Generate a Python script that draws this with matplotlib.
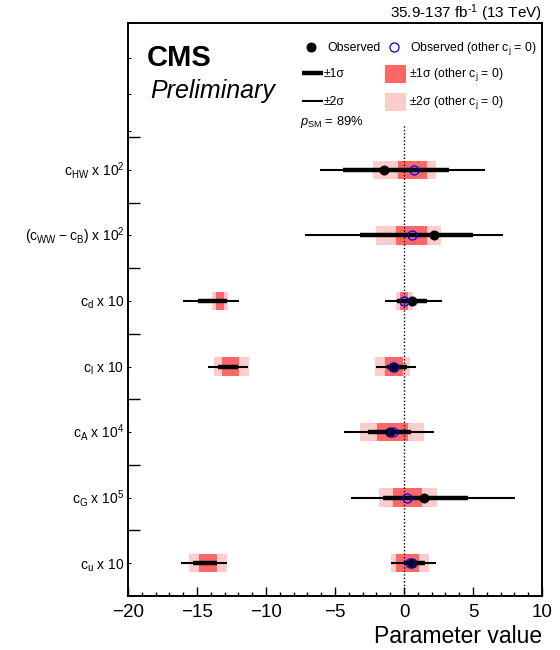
import matplotlib
matplotlib.use('Agg')
import matplotlib.pyplot as plt
from matplotlib.patches import Rectangle
from matplotlib.lines import Line2D

plt.rcParams['font.family'] = ['Liberation Sans', 'DejaVu Sans']
plt.rcParams['mathtext.fontset'] = 'custom'
plt.rcParams['mathtext.rm'] = 'Liberation Sans'
plt.rcParams['mathtext.it'] = 'Liberation Sans:italic'
plt.rcParams['mathtext.bf'] = 'Liberation Sans:bold'

# Data (rows top to bottom)
labels = ['c$_{\\rm HW}$ x 10$^{2}$', '(c$_{\\rm WW}$\u2009\u2212\u2009c$_{\\rm B}$) x 10$^{2}$',
          'c$_{\\rm d}$ x 10', 'c$_{\\rm l}$ x 10', 'c$_{\\rm A}$ x 10$^{4}$',
          'c$_{\\rm G}$ x 10$^{5}$', 'c$_{\\rm u}$ x 10']
obs_best = [-1.45, 2.15, 0.60, -0.70, -1.01, 1.43, 0.56]
obs_1s = [[(-4.44, 3.28)], [(-3.19, 4.98)], [(-14.95, -12.80), (-0.53, 1.64)],
          [(-13.48, -12.05), (-1.26, 0.19)], [(-2.61, 0.48)], [(-1.52, 4.64)],
          [(-15.31, -13.57), (-0.02, 1.50)]]
obs_2s = [[(-6.06, 5.87)], [(-7.20, 7.15)], [(-16.04, -11.96), (-1.38, 2.73)],
          [(-14.23, -11.30), (-2.03, 0.89)], [(-4.32, 2.17)], [(-3.84, 8.04)],
          [(-16.16, -12.80), (-0.94, 2.32)]]
oth_best = [0.75, 0.58, -0.02, -0.77, -0.77, 0.24, 0.43]
oth_1s = [[(-0.41, 1.64)], [(-0.58, 1.64)], [(-13.62, -13.04), (-0.29, 0.27)],
          [(-13.19, -11.93), (-1.38, -0.10)], [(-1.93, 0.31)], [(-0.77, 1.30)],
          [(-14.88, -13.53), (-0.58, 1.11)]]
oth_2s = [[(-2.22, 2.29)], [(-2.03, 2.66)], [(-13.91, -12.75), (-0.58, 0.63)],
          [(-13.77, -11.26), (-2.08, 0.43)], [(-3.16, 1.45)], [(-1.79, 2.39)],
          [(-15.60, -12.80), (-0.97, 1.84)]]

dark = '#ff6666'
light = '#ffcccc'
W, H = 560, 650


def P(px, py):
    return px / W, 1 - py / H


fig = plt.figure(figsize=(5.6, 6.5), dpi=100)
ax = fig.add_axes([128 / W, 54 / H, 414 / W, 573 / H])
ax.set_xlim(-20, 10)
ax.set_ylim(0, 8.74)

bh = 0.28
for i in range(len(labels)):
    y = 6.5 - i
    for lo, hi in oth_2s[i]:
        ax.add_patch(Rectangle((lo, y - bh / 2), hi - lo, bh, color=light, lw=0, zorder=1))
    for lo, hi in oth_1s[i]:
        ax.add_patch(Rectangle((lo, y - bh / 2), hi - lo, bh, color=dark, lw=0, zorder=2))
    for lo, hi in obs_2s[i]:
        ax.plot([lo, hi], [y, y], color='black', lw=1.5, zorder=3, solid_capstyle='butt')
    for lo, hi in obs_1s[i]:
        ax.plot([lo, hi], [y, y], color='black', lw=3.2, zorder=4, solid_capstyle='butt')
    ax.plot(obs_best[i], y, 'o', color='black', ms=6.2, zorder=5)
    ax.plot(oth_best[i], y, 'o', mfc='none', mec='blue', mew=0.9, ms=6.5, zorder=6)
    ax.text(-20.25, y - 0.09, labels[i], ha='right', va='baseline', fontsize=10)

ax.plot([0, 0], [0, 7.2], color='black', lw=1.0, ls=(0, (1, 1.5)), zorder=2)

# axes style
for s in ax.spines.values():
    s.set_linewidth(1.4)
ax.set_xticks(range(-20, 11, 5))
ax.set_xticks(range(-20, 11), minor=True)
ax.tick_params(axis='x', which='major', direction='in', length=6.5, width=1, labelsize=13.5, pad=6)
ax.tick_params(axis='x', which='minor', direction='in', length=3.2, width=1)
ax.set_yticks(range(1, 8))
ax.set_yticks([0.5, 1.5, 2.5, 3.5, 4.5, 5.5, 6.5, 7.1, 7.65, 8.2], minor=True)
ax.tick_params(axis='y', which='major', direction='in', length=8.5, width=1, labelleft=False)
ax.tick_params(axis='y', which='minor', direction='in', length=2.5, width=0.8)

fig.text(*P(542, 643), 'Parameter value', ha='right', va='baseline', fontsize=16.5)
fig.text(*P(542, 18), '35.9-137 fb$^{\\text{-1}}$ (13 TeV)', ha='right', va='baseline', fontsize=11)
fig.text(*P(147, 66), 'CMS', ha='left', va='baseline', fontsize=21, fontweight='bold')
fig.text(*P(150, 98), 'Preliminary', ha='left', va='baseline', fontsize=18, style='italic')

# legend
fs = 8.8
fig.add_artist(Line2D([P(311, 47)[0]], [P(311, 47)[1]], marker='o', color='black', ms=6.2, ls='none'))
fig.text(*P(327, 51), 'Observed', fontsize=fs, va='baseline')
fig.add_artist(Line2D([P(394, 47)[0]], [P(394, 47)[1]], marker='o', mfc='none', mec='blue',
                      mew=0.9, ms=6.5, ls='none'))
fig.text(*P(410, 51), 'Observed (other c$_{\\rm j}$ = 0)', fontsize=fs, va='baseline')

x0, y0 = P(302, 73)
x1, _ = P(323, 73)
fig.add_artist(Line2D([x0, x1], [y0, y0], color='black', lw=3.2, solid_capstyle='butt'))
fig.text(*P(324, 77), '\u00b11\u03c3', fontsize=fs, va='baseline')
fig.add_artist(Rectangle(P(385, 83), 21 / W, 18 / H, color=dark, lw=0, transform=fig.transFigure))
fig.text(*P(409, 77), '\u00b11\u03c3 (other c$_{\\rm j}$ = 0)', fontsize=fs, va='baseline')

x0, y0 = P(302, 101)
fig.add_artist(Line2D([x0, x1], [y0, y0], color='black', lw=1.5, solid_capstyle='butt'))
fig.text(*P(324, 105), '\u00b12\u03c3', fontsize=fs, va='baseline')
fig.add_artist(Rectangle(P(385, 111), 21 / W, 18 / H, color=light, lw=0, transform=fig.transFigure))
fig.text(*P(409, 105), '\u00b12\u03c3 (other c$_{\\rm j}$ = 0)', fontsize=fs, va='baseline')

fig.text(*P(300, 125), '$p_{\\rm SM}$ = 89%', fontsize=fs + 0.5, va='baseline')

fig.savefig('out.png', dpi=100)
